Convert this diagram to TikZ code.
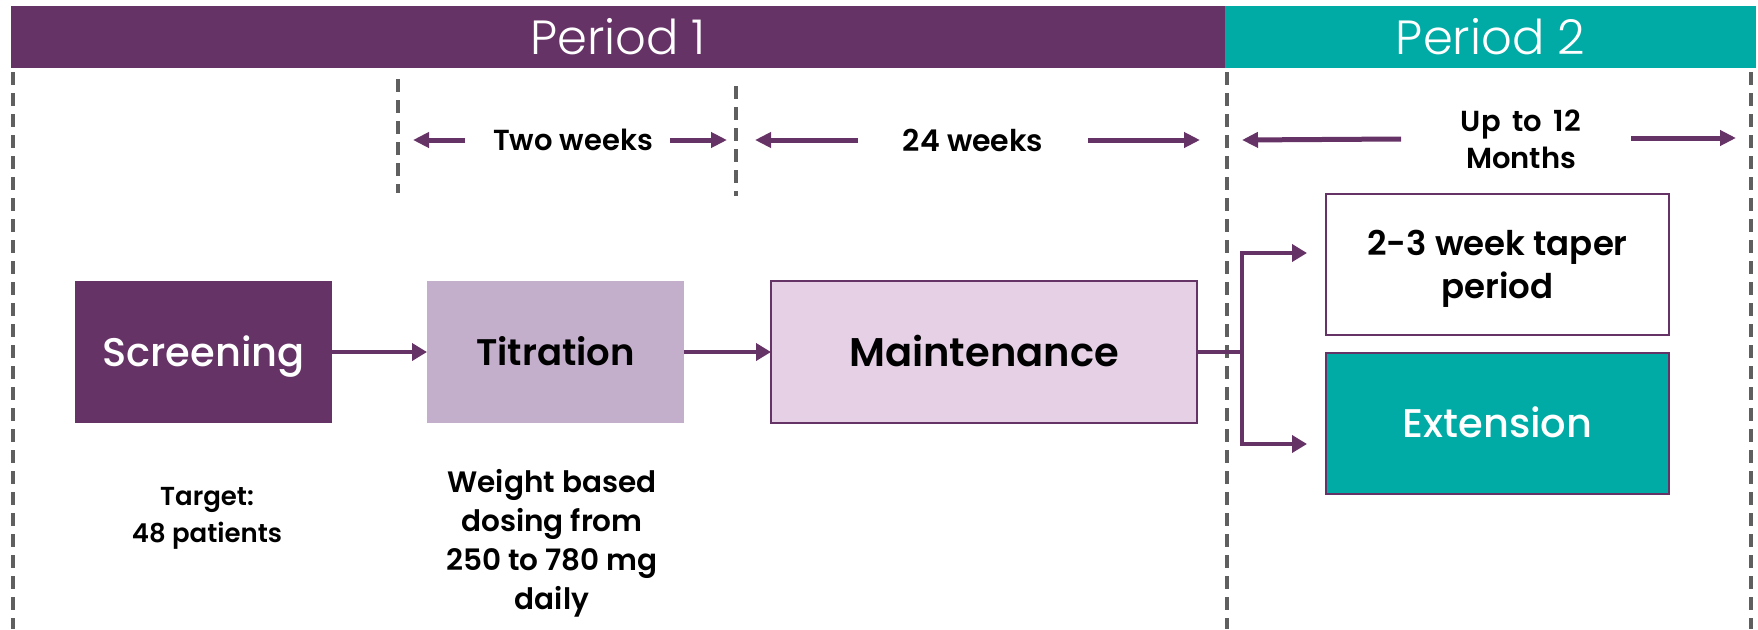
\documentclass[tikz,border=0pt]{standalone}
\usepackage{fontspec}
\setmainfont{Poppins}
\newfontfamily\lightfont{Poppins Light}
\newfontfamily\medfont{Poppins Medium}
\newfontfamily\semifont{Poppins SemiBold}
\usetikzlibrary{arrows.meta}
\definecolor{pdark}{HTML}{663366}
\definecolor{pteal}{HTML}{00ABA6}
\definecolor{plight}{HTML}{C3AECB}
\definecolor{ppale}{HTML}{E6D0E6}
\definecolor{dgray}{HTML}{5F5F5F}
\begin{document}
\begin{tikzpicture}[x=1pt,y=-1pt,
  banner/.style={minimum height=62, inner sep=0, outer sep=0, text=white, font=\lightfont\fontsize{48}{56}\selectfont, text height=34pt, text depth=0pt},
  stage/.style={minimum width=257, minimum height=142, inner sep=0, outer sep=0, align=center, text depth=0pt},
  note/.style={align=center, font=\semifont\fontsize{29}{37}\selectfont, inner sep=0},
  vdash/.style={draw=dgray, line width=4, dash pattern=on 13 off 8},
  flow/.style={draw=pdark, line width=4, -{Triangle[length=15,width=17]}},
  flowline/.style={draw=pdark, line width=4},
  span/.style={draw=pdark, line width=5, -{Triangle[length=16,width=15]}}
]
\useasboundingbox (0,0) rectangle (1758,629);
% banners
\node[banner, fill=pdark, minimum width=1214] (p1) at (618,37) {Period 1};
\node[banner, fill=pteal, minimum width=531] (p2) at (1490.5,37) {Period 2};
% dashed lines
\draw[vdash] (13,72) -- (13,629);
\draw[vdash] (1227,72) -- (1227,629);
\draw[vdash] (1751,72) -- (1751,629);
\draw[vdash] (398,79) -- (398,193);
\draw[vdash] (736,86) -- (736,196);
% span labels
\node[note] (tw) at (573,140) {Two weeks};
\node[note, font=\semifont\fontsize{30}{37}\selectfont] (tf) at (973,140) {24 weeks};
\node[note, font=\semifont\fontsize{29}{37}\selectfont] (ut) at (1521,139) {Up\ \,to\ \,12\\Months};
\coordinate (a1s) at (465,140); \coordinate (a1e) at (413,140);
\coordinate (a2s) at (670,140); \coordinate (a2e) at (727,140);
\coordinate (a3s) at (858,140); \coordinate (a3e) at (755,140);
\coordinate (a4s) at (1088,140); \coordinate (a4e) at (1200,140);
\coordinate (a5s) at (1401,139); \coordinate (a5e) at (1242,140);
\coordinate (a6s) at (1631,138); \coordinate (a6e) at (1736,138);
\draw[span] (a1s) -- (a1e);
\draw[span] (a2s) -- (a2e);
\draw[span] (a3s) -- (a3e);
\draw[span] (a4s) -- (a4e);
\draw[span] (a5s) -- (a5e);
\draw[span] (a6s) -- (a6e);
% stages
\node[stage, fill=pdark, text=white, font=\medfont\fontsize{40}{46}\selectfont, text height=28pt] (scr) at (203.5,352) {Screening};
\node[stage, fill=plight, font=\semifont\fontsize{37}{46}\selectfont, text height=26pt] (tit) at (555.5,352) {Titration};
\node[stage, fill=ppale, draw=pdark, line width=2, minimum width=426, font=\semifont\fontsize{40}{46}\selectfont, text height=28pt] (mai) at (984,352) {Maintenance};
\node[stage, fill=white, draw=pdark, line width=2, minimum width=343, minimum height=141] (tap) at (1497.5,264.5) {};
\node[align=center, inner sep=0, font=\semifont\fontsize{34}{43}\selectfont, yshift=-4pt] (taptext) at (tap.center) {2-3 week taper\\period};
\node[stage, fill=pteal, draw=pdark, line width=2, minimum width=343, minimum height=141, text=white, font=\medfont\fontsize{40}{46}\selectfont, text height=28pt] (ext) at (1497.5,423.5) {Extension};
% notes
\node[note, font=\semifont\fontsize{26}{37}\selectfont] (tg) at (207,518) {Target:\\48 patients};
\node[note, font=\semifont\fontsize{29.5}{39}\selectfont] (wb) at (552,543) {Weight based\\dosing from\\250 to 780 mg\\daily};
% flow
\draw[flow] (scr) -- (tit);
\draw[flow] (tit) -- (mai);
\coordinate (br) at (1242,352);
\coordinate (t1) at (1307,253);
\coordinate (t2) at (1307,444);
\draw[flowline] (mai.east) -- (br);
\draw[flow] (br) |- (t1);
\draw[flow] (br) |- (t2);
\end{tikzpicture}
\end{document}
